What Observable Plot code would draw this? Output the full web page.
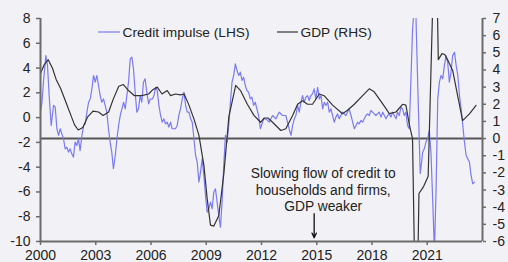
<!DOCTYPE html>
<html>
<head>
<meta charset="utf-8">
<script src="https://cdn.jsdelivr.net/npm/d3@7"></script>
<script src="https://cdn.jsdelivr.net/npm/@observablehq/plot@0.6"></script>
<style>
html, body { margin: 0; padding: 0; background: #f2f2f6; }
#chart svg { display: block; }
</style>
</head>
<body>
<div id="chart"></div>
<script>
// ---- data ----
const ciYears = [
2000.00,2000.08,2000.16,2000.29,2000.38,2000.47,2000.58,2000.71,2000.80,2000.89,2000.98,
2001.07,2001.16,2001.25,2001.34,2001.43,2001.52,2001.61,2001.70,2001.79,2001.88,2001.97,
2002.06,2002.15,2002.25,2002.34,2002.43,2002.52,2002.61,2002.70,2002.79,2002.88,2002.97,
2003.06,2003.15,2003.24,2003.33,2003.42,2003.51,2003.60,2003.69,2003.78,2003.87,2003.96,
2004.06,2004.15,2004.24,2004.33,2004.42,2004.51,2004.60,2004.69,2004.78,2004.87,2004.96,
2005.05,2005.14,2005.23,2005.32,2005.41,2005.50,2005.59,2005.68,2005.77,2005.87,2005.96,
2006.07,2006.16,2006.25,2006.34,2006.43,2006.52,2006.61,2006.70,2006.79,2006.88,2006.97,
2007.06,2007.15,2007.24,2007.33,2007.42,2007.51,2007.60,2007.70,2007.79,2007.88,2007.97,
2008.06,2008.15,2008.24,2008.33,2008.42,2008.51,2008.60,2008.69,2008.78,2008.87,2008.96,
2009.05,2009.14,2009.23,2009.32,2009.41,2009.50,2009.59,2009.68,2009.77,2009.86,2009.95,
2010.04,2010.13,2010.22,2010.31,2010.40,2010.49,2010.58,2010.67,2010.76,2010.85,2010.94,
2011.03,2011.12,2011.21,2011.30,2011.39,2011.48,2011.57,2011.66,2011.75,2011.84,2011.94,
2012.03,2012.12,2012.24,2012.42,2012.60,2012.78,2012.96,
2013.14,2013.32,2013.50,2013.60,2013.69,2013.78,2013.87,2013.96,
2014.05,2014.14,2014.23,2014.32,2014.41,2014.50,2014.59,2014.68,2014.77,2014.86,2014.95,
2015.05,2015.14,2015.23,2015.32,2015.41,2015.50,2015.59,2015.68,2015.77,2015.86,2015.95,
2016.04,2016.13,2016.22,2016.31,2016.40,2016.49,2016.58,2016.67,2016.76,2016.86,2016.95,
2017.04,2017.13,2017.22,2017.31,2017.40,2017.49,2017.58,2017.67,2017.76,2017.85,2017.94,
2018.03,2018.21,2018.39,2018.49,2018.58,2018.76,2018.85,2018.94,
2019.03,2019.12,2019.21,2019.30,2019.39,2019.48,2019.57,2019.66,2019.75,2019.84,2019.93,
2020.02,2020.11,2020.20,2020.29,2020.38,2020.48,2020.57,2020.62,2020.70,2020.75,2020.84,2020.93,
2021.02,2021.11,2021.20,2021.30,2021.39,2021.48,2021.57,2021.66,2021.75,2021.84,2021.93,
2022.02,2022.11,2022.20,2022.29,2022.38,2022.48,2022.57,2022.66,2022.75,2022.84,2022.93,
2023.02,2023.11,2023.20,2023.29,2023.38,2023.47,2023.56
];
const ciValues = [
0.5,1.2,2.86,5.01,4.2,1.78,-0.64,0.98,0.84,-0.9,-1.44,
-0.9,-1.31,-1.71,-2.52,-2.39,-2.79,-2.52,-2.92,-3.19,-1.98,-2.25,
-1.71,-2.66,-1.44,-0.64,-0.5,0.44,1.24,1.51,2.32,3.4,2.86,
3.4,2.59,1.78,1.24,1.51,0.98,0.44,-0.9,-1.98,-2.79,-4.13,
-3.06,-1.71,-0.64,0.17,0.71,1.24,0.71,1.78,2.86,4.74,4.88,
3.94,2.05,0.44,0.71,1.78,1.24,2.86,3.13,2.05,1.11,1.5,
1.51,1.78,2.45,2.18,0.98,0.17,-0.37,-0.1,-0.5,-0.37,-0.77,
-0.37,-0.9,-0.9,-0.9,-0.64,0.17,0.71,1.51,2.05,0.98,0.44,
0.44,-0.1,-0.37,-1.71,-3.06,-3.59,-5.21,-4.4,-3.33,-4.67,-6.28,
-7.63,-7.36,-6.82,-7.36,-6.01,-5.75,-6.82,-7.9,-8.84,-6.82,-3.86,
-1.44,-1.98,-0.64,1.24,2.86,3.4,4.34,3.8,3.4,3.67,3.0,
3.26,2.59,2.18,2.05,1.51,1.65,0.98,1.24,0.71,0.17,-0.9,
-0.5,-0.1,-0.1,-0.37,0.17,-0.1,0.44,
0.17,0.17,-0.9,-1.44,-0.64,-0.1,0.17,0.98,
0.44,1.24,1.78,1.24,1.65,1.78,1.38,1.78,1.92,2.32,1.51,
2.45,1.51,1.78,0.71,1.24,0.98,1.24,0.44,0.71,0.17,-0.37,
0.04,0.3,-0.1,0.17,0.44,0.3,0.17,0.44,0.71,0.17,-0.37,
-0.9,-0.64,-0.37,-0.5,-0.23,-0.37,-0.1,0.17,0.3,0.17,0.57,
0.44,0.17,0.44,0.04,0.44,-0.1,0.17,0.3,
0.04,0.44,0.17,-0.1,0.44,0.17,0.84,0.71,0.17,0.44,-0.64,
-0.9,2.86,7.0,9.0,8.5,2.86,-1.98,-4.5,-3.5,-2.79,-2.52,-1.98,
-1.71,-1.04,-2.79,-6.82,-10.8,-5.75,1.51,2.86,3.4,3.13,4.2,
5.01,4.47,2.86,3.67,5.01,5.28,4.2,3.4,1.78,0.71,-0.64,
-1.98,-3.06,-3.33,-3.59,-4.67,-5.34,-5.21
];
const gdpYears = [
2000.00,2000.20,2000.42,2000.65,2000.85,2001.10,2001.35,2001.60,2001.85,
2002.05,2002.30,2002.55,2002.85,2003.15,2003.40,2003.70,2003.95,
2004.25,2004.50,2004.78,2005.10,2005.50,2005.87,2006.10,2006.34,2006.60,2006.88,
2007.06,2007.33,2007.60,2007.80,2008.06,2008.33,2008.60,2008.87,
2009.05,2009.23,2009.41,2009.68,2009.96,2010.23,2010.60,2010.86,
2011.23,2011.59,2011.95,2012.15,2012.35,2012.60,2013.05,2013.32,2013.69,2013.96,
2014.23,2014.50,2014.77,2015.14,2015.40,2015.86,2016.40,2016.67,
2017.04,2017.49,2017.85,2018.10,2018.40,2018.76,2018.94,2019.30,2019.66,2019.84,
2020.03,2020.20,2020.40,2020.55,2020.80,2021.05,2021.45,2021.60,2021.80,2021.95,
2022.15,2022.38,2022.65,2022.92,2023.29,2023.65
];
const gdpValues = [
3.8,4.3,4.6,4.1,3.45,2.9,2.2,1.5,0.8,
0.5,0.65,1.25,1.6,1.55,1.35,1.55,2.3,
3.05,3.15,2.8,2.5,2.5,2.6,2.85,3.0,2.6,2.8,
2.5,2.6,2.55,2.6,1.95,1.15,0.2,-1.55,
-3.5,-5.05,-5.1,-4.5,-2.0,1.3,3.1,2.8,
2.0,1.35,0.95,1.2,1.2,0.95,0.47,0.57,1.35,2.0,
2.2,2.0,2.0,2.6,2.5,1.95,1.45,1.65,
2.0,2.5,2.9,2.75,2.3,1.75,1.45,1.55,2.0,1.95,
0.8,0.0,-13.0,-3.2,-2.8,-2.2,14.0,4.6,4.95,4.9,
4.5,3.97,2.51,1.05,1.44,1.93
];
const leftTicks = [-10, -8, -6, -4, -2, 0, 2, 4, 6, 8];
const rightTicks = [-6, -5, -4, -3, -2, -1, 0, 1, 2, 3, 4, 5, 6, 7];
const xTicks = [2000, 2003, 2006, 2009, 2012, 2015, 2018, 2021];
const seriesNames = ["Credit impulse (LHS)", "GDP (RHS)"];
const noteLines = ["Slowing flow of credit to", "households and firms,", "GDP weaker"];
const noteX = 2015.35, noteY = -5.8;
const arrowYear = 2014.86, arrowFrom = -7.75, arrowTo = -9.7;

// ---- scales ----
const L = [-10, 8], R = [-6, 7];
const toLeft = r => L[0] + (r - R[0]) * (L[1] - L[0]) / (R[1] - R[0]);
const fromLeft = v => R[0] + (v - L[0]) * (R[1] - R[0]) / (L[1] - L[0]);

const ci = ciYears.map((x, i) => ({x, v: ciValues[i]}));
const gdp = gdpYears.map((x, i) => ({x, v: gdpValues[i]}));

const BLUE = "#7a7af2", BLACK = "#333", AXIS = "#6b6b6b", TXT = "#222";
const FONT = "'Liberation Sans', Arial, sans-serif";

const chart = Plot.plot({
  width: 508, height: 262,
  marginLeft: 40, marginRight: 26, marginTop: 18, marginBottom: 21,
  style: {background: "#f2f2f6", fontFamily: FONT, fontSize: "14px", color: TXT, overflow: "visible"},
  x: {domain: [2000, 2024], label: null},
  y: {domain: L, label: null},
  marks: [
    Plot.ruleY([toLeft(0)], {stroke: "#555", strokeWidth: 2}),
    Plot.line(ci, {x: "x", y: "v", stroke: BLUE, strokeWidth: 1.2, clip: true}),
    Plot.line(gdp, {x: "x", y: d => toLeft(d.v), stroke: BLACK, strokeWidth: 1.2, clip: true}),
    Plot.ruleX([2000, 2024], {stroke: AXIS, strokeWidth: 2}),
    Plot.ruleY([L[0]], {stroke: AXIS, strokeWidth: 2}),
    Plot.axisY(leftTicks, {anchor: "left", label: null, tickSize: 4, tickPadding: 6, stroke: AXIS, strokeWidth: 1.5,
      tickFormat: d => String(d), fontSize: 14, fill: TXT}),
    Plot.axisY(rightTicks.map(toLeft), {anchor: "right", label: null, tickSize: 3, tickPadding: 7, stroke: AXIS, strokeWidth: 1.5,
      tickFormat: d => String(Math.round(fromLeft(d))), fontSize: 14, fill: TXT}),
    Plot.axisX(xTicks, {anchor: "bottom", label: null, tickSize: 4, tickPadding: 5, stroke: AXIS, strokeWidth: 1.5,
      tickFormat: d => String(d), fontSize: 14, fill: TXT}),
    Plot.text([noteLines.join("\n")], {x: () => noteX, y: () => noteY, text: d => d,
      lineHeight: 1.2, fontSize: 13.8, fill: TXT, textAnchor: "middle"}),
    Plot.arrow([0], {x1: () => arrowYear, x2: () => arrowYear, y1: () => arrowFrom, y2: () => arrowTo,
      stroke: "#111", strokeWidth: 1.3, headLength: 6, headAngle: 50})
  ]
});
document.getElementById("chart").appendChild(chart);

// legend inside plot area
const svg = d3.select(chart);
const legend = [
  {name: seriesNames[0], color: BLUE, x0: 98, x1: 120},
  {name: seriesNames[1], color: BLACK, x0: 277, x1: 298}
];
const lg = svg.append("g").attr("font-family", FONT).attr("font-size", 13.7)
  .attr("fill", TXT).attr("text-anchor", "start");
legend.forEach(d => {
  lg.append("line").attr("x1", d.x0).attr("x2", d.x1).attr("y1", 32).attr("y2", 32)
    .attr("stroke", d.color).attr("stroke-width", 1.2);
  lg.append("text").attr("x", d.x1 + 2.5).attr("y", 37).attr("text-anchor", "start").text(d.name);
});
</script>
</body>
</html>
